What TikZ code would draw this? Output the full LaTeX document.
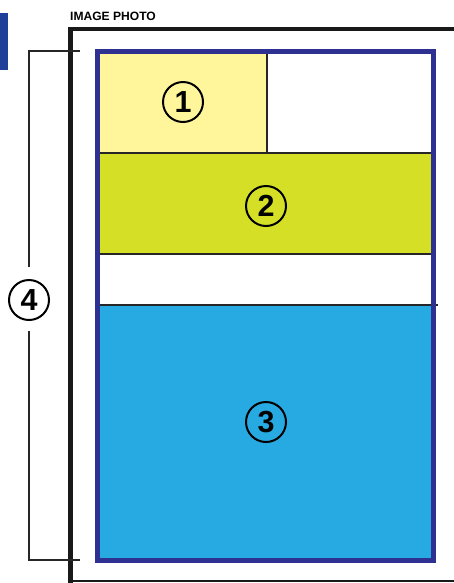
\documentclass[tikz,border=0pt]{standalone}
\usepackage{fontspec}
\setmainfont{Liberation Sans}
\usetikzlibrary{positioning}
\definecolor{tabblue}{HTML}{1F3F99}
\definecolor{framenavy}{HTML}{2E3192}
\definecolor{paleyellow}{HTML}{FFF59B}
\definecolor{limegreen}{HTML}{D4DF26}
\definecolor{skyblue}{HTML}{27A9E1}

\begin{document}
\begin{tikzpicture}[x=0.03cm, y=-0.03cm,
    num/.style={draw, circle, line width=1.7pt, minimum size=1.2cm, inner sep=0pt,
        font=\fontsize{26}{26}\selectfont\bfseries},
    divider/.style={line width=1.3pt, black!85},
    bracket/.style={line width=1.4pt, black!85},
]
\useasboundingbox (0,0) rectangle (454,583);
\fill[tabblue] (0,13) rectangle (8,70);
\node[anchor=base west, inner sep=0pt, font=\fontsize{10.3}{10.3}\selectfont\bfseries] (title) at (70,20.5) {IMAGE PHOTO};

% panel areas
\fill[paleyellow] (97,52) rectangle (267,153);
\fill[limegreen] (97,153) rectangle (434,254);
\fill[skyblue] (97,305) rectangle (434,560);
\draw[divider] (267,52) -- (267,153);
\draw[divider] (97,153) -- (434,153);
\draw[divider] (97,254) -- (434,254);
\draw[divider] (97,305) -- (438,305);
\draw[line width=4.3pt, framenavy] (97.5,51.5) rectangle (433.5,560.5);

% outer frame
\draw[line width=3.8pt, black!90] (454,29) -| (70.5,583);
\draw[line width=1.3pt, black!90] (70.5,581) -- (454,581);

% numbers
\node[num] (one) at (183,102) {1};
\node[num] (two) at (266,206) {2};
\node[num] (three) at (266,422) {3};
\node[num] (four) at (29,300) {4};

% bracket
\coordinate (btop) at (80,51);
\coordinate (bbot) at (80,560);
\draw[bracket] ([yshift=0.36cm]four.north) |- (btop);
\draw[bracket] ([yshift=-0.3cm]four.south) |- (bbot);
\end{tikzpicture}
\end{document}
